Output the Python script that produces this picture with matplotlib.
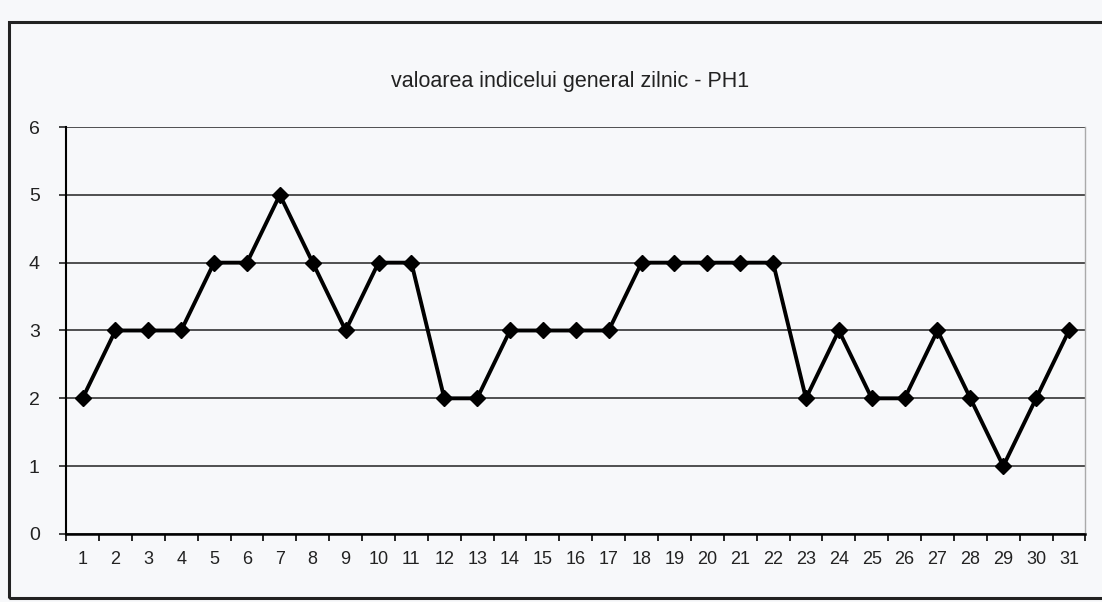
import numpy as np
import matplotlib.pyplot as plt
from matplotlib.patches import Rectangle

# daily index values - PH1
zile = list(range(1, 32))
valori = [2, 3, 3, 3, 4, 4, 5, 4, 3, 4, 4, 2, 2, 3, 3, 3, 3,
          4, 4, 4, 4, 4, 2, 3, 2, 2, 3, 2, 1, 2, 3]
titlu = "valoarea indicelui general zilnic - PH1"

plt.rcParams['font.family'] = ['Liberation Sans', 'DejaVu Sans']

fig = plt.figure(figsize=(11.02, 6.02), dpi=100)
fig.patch.set_facecolor('#f7f8fa')

# chart frame
fig.patches.append(Rectangle((0.008, 0.006), 1.2, 0.957, transform=fig.transFigure,
                             fill=False, lw=2.2, ec='#222222'))

ax = fig.add_axes([0.060, 0.113, 0.925, 0.676])
ax.set_facecolor('#f7f8fa')
ax.plot(zile, valori, color='black', lw=2.8, marker='D', ms=8, mfc='black', mec='black')

ax.set_xlim(0.5, 31.5)
ax.set_ylim(0, 6)
ax.set_yticks(range(0, 7))
ax.set_xticks(zile)
ax.set_xticklabels([str(z) for z in zile])
ax.set_xticks(np.arange(0.5, 32, 1), minor=True)
ax.tick_params(axis='x', which='major', length=0, pad=12, labelsize=13, colors='#222222')
ax.tick_params(axis='x', which='minor', length=5, width=1.2, direction='out')
ax.tick_params(axis='y', length=5, width=1.2, direction='out', pad=14, labelsize=14, colors='#222222')

ax.grid(axis='y', color='#333333', lw=1.2)
ax.set_axisbelow(True)
ax.spines['top'].set_visible(False)
ax.spines['right'].set_color('#aaaaaa')
ax.spines['right'].set_linewidth(1)
ax.spines['left'].set_linewidth(1.5)
ax.spines['bottom'].set_linewidth(1.8)

fig.text(0.517, 0.864, titlu, ha='center', va='center', fontsize=15.5, color='#222222')

fig.savefig('out.png', dpi=100, facecolor=fig.get_facecolor())
